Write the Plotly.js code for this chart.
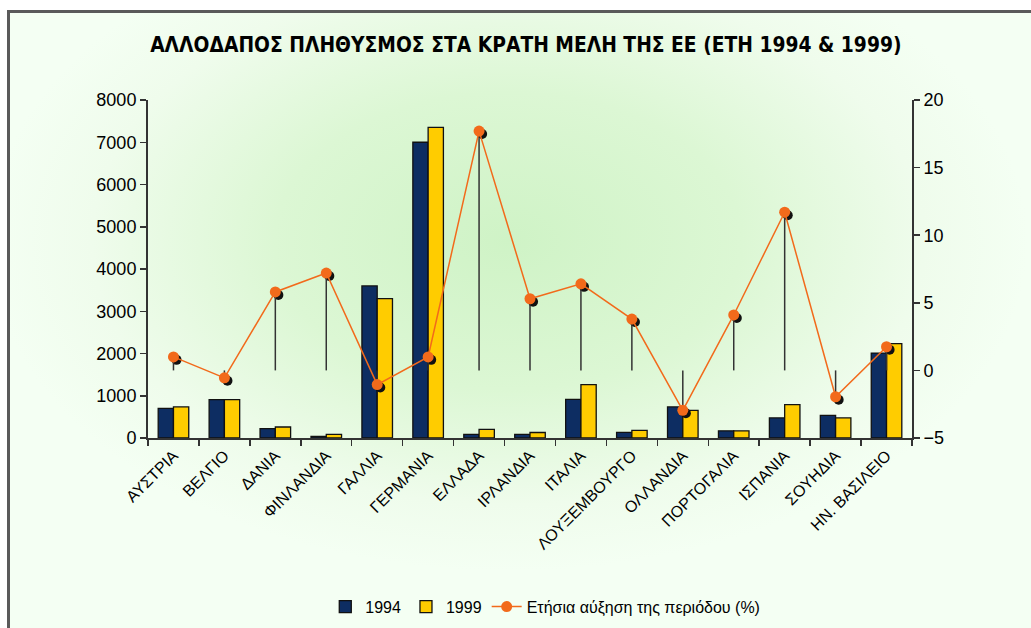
<!DOCTYPE html>
<html>
<head>
<meta charset="utf-8">
<script src="https://cdn.plot.ly/plotly-3.0.1.min.js"></script>
<style>
html,body{margin:0;padding:0;background:#ffffff;}
#wrap{position:relative;width:1031px;height:628px;overflow:hidden;background:#ffffff;}
#bg{position:absolute;left:8px;top:11px;width:1040px;height:640px;
 background:radial-gradient(ellipse 520px 330px at 500px 230px,#cff3c6 0%,#dcf7d4 45%,#effcec 80%,#f4fff3 100%);}
#frame{position:absolute;left:7px;top:10px;width:1040px;height:640px;border-left:3px solid #5a5a5a;border-top:3px solid #5a5a5a;pointer-events:none;}
#chart{position:absolute;left:0;top:0;width:1031px;height:628px;}
</style>
</head>
<body>
<div id="wrap">
<div id="bg"></div>
<div id="chart"></div>
<div id="frame"></div>
</div>
<script>
const categories = ["ΑΥΣΤΡΙΑ","ΒΕΛΓΙΟ","ΔΑΝΙΑ","ΦΙΝΛΑΝΔΙΑ","ΓΑΛΛΙΑ","ΓΕΡΜΑΝΙΑ","ΕΛΛΑΔΑ","ΙΡΛΑΝΔΙΑ","ΙΤΑΛΙΑ","ΛΟΥΞΕΜΒΟΥΡΓΟ","ΟΛΛΑΝΔΙΑ","ΠΟΡΤΟΓΑΛΙΑ","ΙΣΠΑΝΙΑ","ΣΟΥΗΔΙΑ","ΗΝ. ΒΑΣΙΛΕΙΟ"];
const pop1994 = [700, 910, 220, 40, 3600, 7000, 85, 85, 915, 135, 735, 170, 475, 537, 2010];
const pop1999 = [735, 910, 260, 85, 3300, 7350, 205, 130, 1265, 180, 655, 170, 790, 475, 2235];
const growth = [1.0, -0.55, 5.8, 7.2, -1.05, 1.0, 17.7, 5.3, 6.4, 3.8, -2.95, 4.1, 11.7, -1.95, 1.75];
const yTicksLeft = [0,1000,2000,3000,4000,5000,6000,7000,8000];
const yTicksRight = [-5,0,5,10,15,20];

const font = "'Liberation Sans', Arial, sans-serif";
const navy = "#0d2d62";
const yellow = "#ffcc00";
const orange = "#f26a1b";

const up = growth.map(v => v < 0 ? -v : 0);
const down = growth.map(v => v > 0 ? v : 0);

const traces = [
 {type:"bar", name:"1994", x:categories, y:pop1994, xaxis:"x", yaxis:"y",
  marker:{color:navy, line:{color:"#111111", width:1.3}}},
 {type:"bar", name:"1999", x:categories, y:pop1999, xaxis:"x", yaxis:"y",
  marker:{color:yellow, line:{color:"#111111", width:1.3}}},
 {type:"scatter", mode:"markers", name:"shadow", showlegend:false, hoverinfo:"skip",
  x:categories, y:growth, xaxis:"x2", yaxis:"y2",
  marker:{color:"#111111", size:10}},
 {type:"scatter", mode:"lines+markers", name:"Ετήσια αύξηση της περιόδου (%)",
  x:categories, y:growth, xaxis:"x3", yaxis:"y3",
  line:{color:orange, width:1.5},
  marker:{color:orange, size:11},
  error_y:{type:"data", symmetric:false, array:up, arrayminus:down, color:"#333333", thickness:1.5, width:0}}
];

const n = categories.length;
const layout = {
 width:1031, height:628,
 paper_bgcolor:"rgba(0,0,0,0)", plot_bgcolor:"rgba(0,0,0,0)",
 margin:{l:148, r:119, t:100, b:190},
 title:{text:"<b>ΑΛΛΟΔΑΠΟΣ ΠΛΗΘΥΣΜΟΣ ΣΤΑ ΚΡΑΤΗ ΜΕΛΗ ΤΗΣ ΕΕ (ΕΤΗ 1994 &amp; 1999)</b>",
  x:0.51, xanchor:"center", y:0.928, yanchor:"middle",
  font:{family:"'DejaVu Sans Condensed', 'Liberation Sans Narrow', sans-serif", size:20.8, color:"#000000"}},
 barmode:"group", bargap:0.4, bargroupgap:0,
 showlegend:true,
 legend:{orientation:"h", x:0.52, xanchor:"center", yref:"container", y:0.034, yanchor:"middle",
  font:{family:font, size:16, color:"#000000"}, bgcolor:"rgba(0,0,0,0)", traceorder:"normal", itemwidth:30},
 xaxis:{type:"category", range:[-0.5, n-0.5], showline:true, linecolor:"#333333", linewidth:2,
  ticks:"outside", ticklen:6, tickwidth:1.5, tickcolor:"#333333", tickson:"boundaries",
  tickangle:-45, tickfont:{family:font, size:16, color:"#000000"}, showgrid:false, zeroline:false},
 yaxis:{range:[0,8000], tickvals:yTicksLeft, showline:true, linecolor:"#333333", linewidth:2,
  ticks:"outside", ticklen:6, tickwidth:1.5, tickcolor:"#333333",
  tickfont:{family:font, size:18, color:"#000000"}, showgrid:false, zeroline:false},
 xaxis2:{type:"category", overlaying:"x", range:[-0.5-0.06, n-0.5-0.06], visible:false},
 yaxis2:{overlaying:"y", range:[-5+0.22, 20+0.22], visible:false},
 xaxis3:{type:"category", overlaying:"x", range:[-0.5, n-0.5], visible:false},
 yaxis3:{overlaying:"y", side:"right", range:[-5,20], tickvals:yTicksRight,
  showline:true, linecolor:"#333333", linewidth:2,
  ticks:"outside", ticklen:6, tickwidth:1.5, tickcolor:"#333333",
  tickfont:{family:font, size:18, color:"#000000"}, showgrid:false, zeroline:false}
};

Plotly.newPlot("chart", traces, layout, {displayModeBar:false, staticPlot:true});
</script>
</body>
</html>
